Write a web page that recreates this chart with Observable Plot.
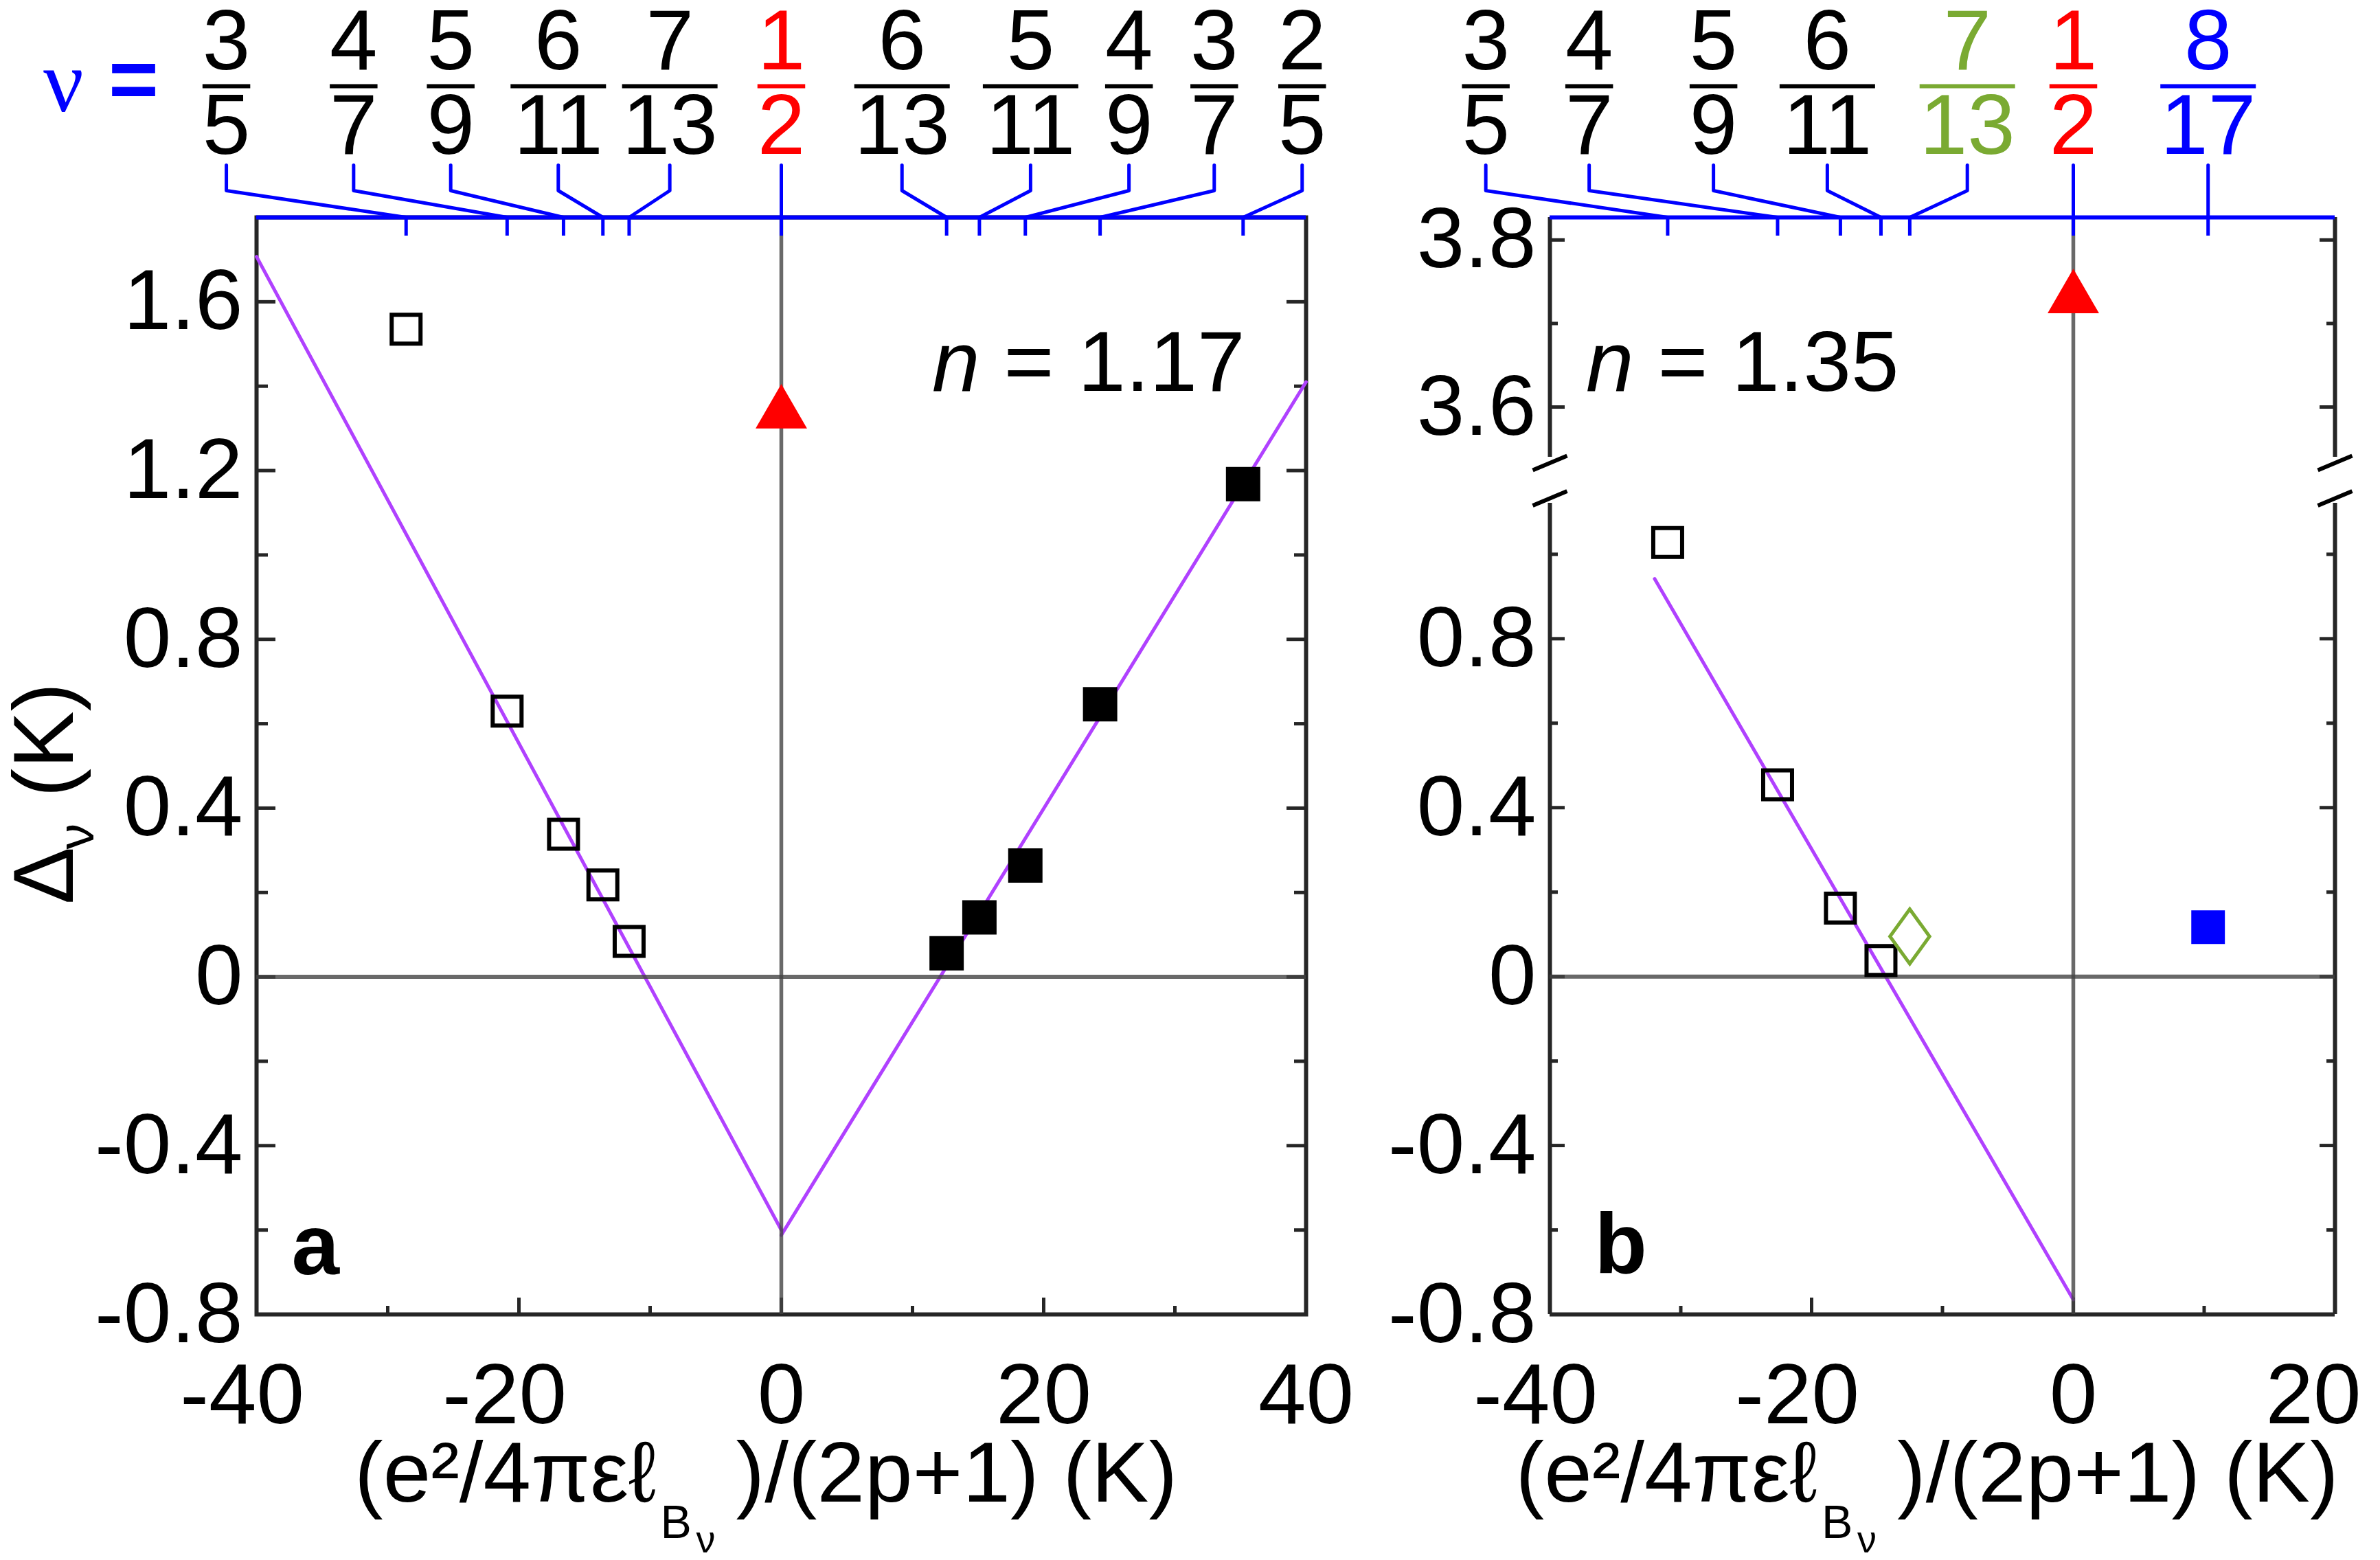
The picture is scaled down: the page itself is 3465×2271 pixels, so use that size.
<!DOCTYPE html>
<html>
<head>
<meta charset="utf-8">
<script src="https://cdn.jsdelivr.net/npm/d3@7"></script>
<script src="https://cdn.jsdelivr.net/npm/@observablehq/plot@0.6"></script>
<style>
html, body { margin: 0; padding: 0; background: #fff; }
#fig { position: relative; width: 3465px; height: 2271px; overflow: hidden; background: #fff; }
#fig svg { position: absolute; max-width: none !important; overflow: visible; }
</style>
</head>
<body>
<div id="fig"></div>
<script>
// ---------------- data ----------------
// panel a (n = 1.17)
const fracA   = ["3/5", "4/7", "5/9", "6/11", "7/13", "1/2", "6/13", "5/11", "4/9", "3/7", "2/5"];
const energyA = [-28.6, -20.9, -16.6, -13.6, -11.6, 0, 12.6, 15.1, 18.6, 24.3, 35.2];
const gapA    = [1.535, 0.630, 0.338, 0.218, 0.084, 1.335, 0.056, 0.141, 0.264, 0.646, 1.168];
const kindA   = ["open", "open", "open", "open", "open", "half", "filled", "filled", "filled", "filled", "filled"];
// panel b (n = 1.35)
const fracB   = ["3/5", "4/7", "5/9", "6/11", "7/13", "1/2", "8/17"];
const energyB = [-31.0, -22.6, -17.8, -14.7, -12.5, 0, 10.3];
const gapB    = [1.028, 0.454, 0.162, 0.038, 0.095, 3.73, 0.117];
const kindB   = ["open", "open", "open", "open", "diamond", "half", "blue"];
// linear fits
const fitAx   = [-40, 0, 0, 40];
const fitAy   = [1.707, -0.600, -0.612, 1.410];
const fitAseg = ["left", "left", "right", "right"];
const fitBx   = [-32.0, 0];
const fitBy   = [0.942, -0.765];
const nA = "1.17", nB = "1.35";
// tick values
const yTicksA = [-0.8, -0.4, 0, 0.4, 0.8, 1.2, 1.6];
const yMinorA = [-0.6, -0.2, 0.2, 0.6, 1.0, 1.4];
const xTicksA = [-40, -20, 0, 20, 40];
const xMinorA = [-30, -10, 10, 30];
const yTicksBup = [3.6, 3.8];
const yMinorBup = [3.7];
const yTicksBlo = [-0.8, -0.4, 0, 0.4, 0.8];
const yMinorBlo = [-0.6, -0.2, 0.2, 0.6, 1.0];
const xTicksB = [-40, -20, 0, 20];
const xMinorB = [-30, -10, 10];

// ---------------- layout (annotation placement, not data) ----------------
const nuLabelXA = [-42.3, -32.6, -25.2, -17.0, -8.5, 0, 9.2, 19.0, 26.5, 33.0, 39.7];
const nuLabelXB = [-44.9, -37.0, -27.5, -18.8, -8.1, 0, 10.3];

const L = {
  a:   {svgLeft: 0,    svgTop: 0,   width: 2000, height: 2271, left: 373,  right: 1901, top: 316, bottom: 1913, x: [-40, 40], y: [-0.8, 1.8]},
  bUp: {svgLeft: 2000, svgTop: 0,   width: 1465, height: 700,  left: 2256, right: 3399, top: 316, bottom: 665,  x: [-40, 20], y: [3.54, 3.827]},
  bLo: {svgLeft: 2000, svgTop: 700, width: 1465, height: 1571, left: 2256, right: 3399, top: 732, bottom: 1913, x: [-40, 20], y: [-0.8, 1.121]}
};

const FONT = "'Liberation Sans', Arial, Helvetica, sans-serif";
const STYLE = {background: "transparent", fontFamily: FONT, fontSize: "125px", color: "#000", overflow: "visible"};
const DARK = "#262626", ZERO = "#444", BLUE = "#0000ff", RED = "#ff0000", GREEN = "#7aaa32", PURPLE = "#b041ff";
const colorOf = k => k === "half" ? RED : k === "diamond" ? GREEN : k === "blue" ? BLUE : "#000";
const DIGIT_HALF = 34.75; // half advance of one 125px digit

const xu = (c, px) => px * (c.x[1] - c.x[0]) / (c.right - c.left);
const yu = (c, px) => px * (c.y[1] - c.y[0]) / (c.bottom - c.top);
const yAt = (c, gpx) => c.y[1] - (gpx - c.top) * (c.y[1] - c.y[0]) / (c.bottom - c.top);
const xPx = (c, v) => c.left + (v - c.x[0]) * (c.right - c.left) / (c.x[1] - c.x[0]);
const margins = c => ({
  marginLeft: c.left - c.svgLeft, marginRight: c.svgLeft + c.width - c.right,
  marginTop: c.top - c.svgTop, marginBottom: c.svgTop + c.height - c.bottom
});

const fig = document.getElementById("fig");
function place(svg, c, top) {
  svg.style.left = c.svgLeft + "px";
  svg.style.top = (top ?? c.svgTop) + "px";
  fig.appendChild(svg);
}

const rowsOf = (fr, en, gp, kd) => fr.map((f, i) => ({f, e: en[i], g: gp[i], kind: kd[i]}));
const rowsA = rowsOf(fracA, energyA, gapA, kindA);
const rowsB = rowsOf(fracB, energyB, gapB, kindB);

const diamondSymbol = {
  draw(ctx, size) {
    const s = Math.sqrt(size), a = 0.80 * s, b = 0.58 * s;
    ctx.moveTo(0, -a); ctx.lineTo(b, 0); ctx.lineTo(0, a); ctx.lineTo(-b, 0); ctx.closePath();
  }
};

function dots(rows) {
  return [
    Plot.dot(rows.filter(d => d.kind === "open"), {x: "e", y: "g", symbol: "square", r: 23.7, stroke: "#000", strokeWidth: 6, fill: "none"}),
    Plot.dot(rows.filter(d => d.kind === "filled"), {x: "e", y: "g", symbol: "square", r: 28.2, fill: "#000"}),
    Plot.dot(rows.filter(d => d.kind === "blue"), {x: "e", y: "g", symbol: "square", r: 27.6, fill: BLUE}),
    Plot.dot(rows.filter(d => d.kind === "half"), {x: "e", y: "g", symbol: "triangle", r: 27.8, fill: RED}),
    Plot.dot(rows.filter(d => d.kind === "diamond"), {x: "e", y: "g", symbol: diamondSymbol, r: 28, stroke: GREEN, strokeWidth: 5, fill: "none"})
  ];
}

function sideTicks(c, vals, len) {
  return [
    Plot.ruleY(vals, {x1: c.x[0], x2: c.x[0] + xu(c, len), stroke: DARK, strokeWidth: 5}),
    Plot.ruleY(vals, {x1: c.x[1] - xu(c, len), x2: c.x[1], stroke: DARK, strokeWidth: 5})
  ];
}
function bottomTicks(c, vals, len) {
  return Plot.ruleX(vals, {y1: c.y[0], y2: c.y[0] + yu(c, len), stroke: DARK, strokeWidth: 5});
}
const yAxisOpts = ticks => ({ticks, tickSize: 0, tickPadding: 20, tickFormat: d => String(d), label: null});

// x tick labels: digits centred on the tick (minus sign hangs to the left),
// optionally kept inside a right-hand limit (global px)
function xTickLabels(c, ticks, maxRight) {
  return Plot.text(ticks, {
    x: d => {
      let right = xPx(c, d) + String(Math.abs(d)).length * DIGIT_HALF;
      if (maxRight != null) right = Math.min(right, maxRight);
      return c.x[0] + xu(c, right - c.left);
    },
    text: d => String(d), textAnchor: "end", lineAnchor: "top", frameAnchor: "bottom", dy: 70, fontSize: 125
  });
}

function xLabel() {
  return [
    Plot.text(["(e²/4πεℓ"], {frameAnchor: "bottom", textAnchor: "end", lineAnchor: "bottom", dx: -182, dy: 272, fontSize: 125}),
    Plot.text(["B"], {frameAnchor: "bottom", textAnchor: "start", lineAnchor: "bottom", dx: -176, dy: 325, fontSize: 68}),
    Plot.text(["ν"], {frameAnchor: "bottom", textAnchor: "start", lineAnchor: "bottom", dx: -124, dy: 346, fontSize: 56}),
    Plot.text([")/(2p+1) (K)"], {frameAnchor: "bottom", textAnchor: "start", lineAnchor: "bottom", dx: -66, dy: 272, fontSize: 125})
  ];
}

// ---------------- panel a ----------------
const cA = L.a;
const fitARows = fitAx.map((x, i) => ({x, y: fitAy[i], s: fitAseg[i]}));
const plotA = Plot.plot({
  width: cA.width, height: cA.height, ...margins(cA),
  x: {domain: cA.x, axis: null},
  y: {domain: cA.y, ...yAxisOpts(yTicksA)},
  style: STYLE,
  marks: [
    Plot.frame({stroke: DARK, strokeWidth: 6}),
    ...sideTicks(cA, yTicksA, 28), ...sideTicks(cA, yMinorA, 17),
    bottomTicks(cA, xTicksA, 24), bottomTicks(cA, xMinorA, 12),
    xTickLabels(cA, xTicksA),
    Plot.line(fitARows, {x: "x", y: "y", z: "s", stroke: PURPLE, strokeWidth: 5}),
    Plot.ruleY([0], {stroke: ZERO, strokeOpacity: 0.8, strokeWidth: 6}),
    Plot.ruleX([0], {stroke: ZERO, strokeOpacity: 0.8, strokeWidth: 5.5}),
    ...dots(rowsA),
    Plot.text(["= " + nA], {frameAnchor: "top-right", textAnchor: "end", lineAnchor: "bottom", dx: -89, dy: 252, fontSize: 125}),
    Plot.text(["n"], {frameAnchor: "top-right", textAnchor: "end", lineAnchor: "bottom", dx: -475, dy: 252, fontSize: 125, fontStyle: "italic"}),
    Plot.text(["a"], {frameAnchor: "bottom-left", textAnchor: "start", lineAnchor: "bottom", dx: 51, dy: -59, fontSize: 125, fontWeight: "bold"}),
    ...xLabel(),
    Plot.text(["Δ"], {frameAnchor: "top-left", rotate: -90, textAnchor: "start", lineAnchor: "bottom", dx: -268, dy: 1000, fontSize: 125}),
    Plot.text(["ν"], {frameAnchor: "top-left", rotate: -90, textAnchor: "start", lineAnchor: "bottom", dx: -238, dy: 920, fontSize: 75}),
    Plot.text(["(K)"], {frameAnchor: "top-left", rotate: -90, textAnchor: "start", lineAnchor: "bottom", dx: -268, dy: 844, fontSize: 125})
  ]
});
place(plotA, cA);

// ---------------- panel b (broken y axis: two stacked plots) ----------------
const cU = L.bUp, cD = L.bLo;
const slashHalfX = 25, slashHalfY = 10.5;
function slash(c, gy, xEdge) {
  return {x1: xEdge - xu(c, slashHalfX), y1: yAt(c, gy + slashHalfY), x2: xEdge + xu(c, slashHalfX), y2: yAt(c, gy - slashHalfY)};
}
const gapEdge = 700; // boundary between the two stacked plots (global px)

const plotBup = Plot.plot({
  width: cU.width, height: cU.height, ...margins(cU),
  x: {domain: cU.x, axis: null},
  y: {domain: cU.y, ...yAxisOpts(yTicksBup)},
  style: STYLE,
  marks: [
    Plot.ruleX(cU.x, {y1: cU.y[0], y2: cU.y[1], stroke: DARK, strokeWidth: 6}),
    ...sideTicks(cU, yTicksBup, 22), ...sideTicks(cU, yMinorBup, 12),
    Plot.ruleX([0], {y1: yAt(cU, gapEdge), y2: cU.y[1], stroke: ZERO, strokeOpacity: 0.8, strokeWidth: 5.5}),
    Plot.link(cU.x.map(xe => slash(cU, 673.5, xe)), {x1: "x1", y1: "y1", x2: "x2", y2: "y2", stroke: "#000", strokeWidth: 6}),
    ...dots(rowsB.filter(d => d.g >= cU.y[0])),
    Plot.text(["n"], {frameAnchor: "top-left", textAnchor: "end", lineAnchor: "bottom", dx: 122, dy: 252, fontSize: 125, fontStyle: "italic"}),
    Plot.text(["= " + nB], {frameAnchor: "top-left", textAnchor: "start", lineAnchor: "bottom", dx: 157, dy: 252, fontSize: 125})
  ]
});
place(plotBup, cU);

const plotBlo = Plot.plot({
  width: cD.width, height: cD.height, ...margins(cD),
  x: {domain: cD.x, axis: null},
  y: {domain: cD.y, ...yAxisOpts(yTicksBlo)},
  style: STYLE,
  marks: [
    Plot.ruleX(cD.x, {y1: cD.y[0], y2: cD.y[1], stroke: DARK, strokeWidth: 6}),
    Plot.ruleY([cD.y[0]], {x1: cD.x[0], x2: cD.x[1], stroke: DARK, strokeWidth: 6}),
    ...sideTicks(cD, yTicksBlo, 22), ...sideTicks(cD, yMinorBlo, 12),
    bottomTicks(cD, xTicksB, 24), bottomTicks(cD, xMinorB, 12),
    xTickLabels(cD, xTicksB, 3437),
    Plot.link(cD.x.map(xe => slash(cD, 725, xe)), {x1: "x1", y1: "y1", x2: "x2", y2: "y2", stroke: "#000", strokeWidth: 6}),
    Plot.line(fitBx.map((x, i) => ({x, y: fitBy[i]})), {x: "x", y: "y", stroke: PURPLE, strokeWidth: 5}),
    Plot.ruleY([0], {x1: cD.x[0], x2: cD.x[1], stroke: ZERO, strokeOpacity: 0.8, strokeWidth: 6}),
    Plot.ruleX([0], {y1: cD.y[0], y2: yAt(cD, gapEdge), stroke: ZERO, strokeOpacity: 0.8, strokeWidth: 5.5}),
    ...dots(rowsB.filter(d => d.g <= cD.y[1])),
    Plot.text(["b"], {frameAnchor: "bottom-left", textAnchor: "start", lineAnchor: "bottom", dx: 65, dy: -61, fontSize: 125, fontWeight: "bold"}),
    ...xLabel()
  ]
});
place(plotBlo, cD);

// ---------------- ν filling-factor strips (top axis with leaders) ----------------
const STRIP_H = 360;
function strip(c, rows, labelX, withNu) {
  const r = rows.map((d, i) => {
    const [num, den] = d.f.split("/");
    return {f: d.f, num, den, e: d.e, lx: labelX[i], color: colorOf(d.kind)};
  });
  const leaders = r.flatMap(d => [{f: d.f, x: d.lx, y: 240}, {f: d.f, x: d.lx, y: 277}, {f: d.f, x: d.e, y: 316}]);
  const marks = [
    Plot.ruleY([316], {x1: c.x[0], x2: c.x[1], stroke: BLUE, strokeWidth: 6}),
    Plot.ruleX(r, {x: "e", y1: 316, y2: 343, stroke: BLUE, strokeWidth: 5}),
    Plot.line(leaders, {x: "x", y: "y", z: "f", stroke: BLUE, strokeWidth: 5}),
    Plot.text(r, {x: "lx", y: 100, text: "num", fill: d => d.color, lineAnchor: "bottom", fontSize: 125}),
    Plot.text(r, {x: "lx", y: 223, text: "den", fill: d => d.color, lineAnchor: "bottom", fontSize: 125}),
    Plot.link(r, {
      x1: d => d.lx - xu(c, d.den.length * DIGIT_HALF), x2: d => d.lx + xu(c, d.den.length * DIGIT_HALF),
      y1: 125, y2: 125, stroke: d => d.color, strokeWidth: 6
    })
  ];
  if (withNu) {
    marks.push(
      Plot.text(["ν"], {frameAnchor: "top-left", textAnchor: "middle", lineAnchor: "bottom", dx: 92 - c.left, dy: 161, fontSize: 130, fill: BLUE, fontFamily: "'Liberation Serif', 'Times New Roman', serif"}),
      Plot.text(["="], {frameAnchor: "top-left", textAnchor: "middle", lineAnchor: "bottom", dx: 194 - c.left, dy: 157, fontSize: 125, fill: BLUE, fontWeight: "bold"})
    );
  }
  return Plot.plot({
    width: c.width, height: STRIP_H,
    marginLeft: c.left - c.svgLeft, marginRight: c.svgLeft + c.width - c.right, marginTop: 0, marginBottom: 0,
    x: {domain: c.x, axis: null},
    y: {domain: [0, STRIP_H], range: [0, STRIP_H], axis: null},
    color: {type: "identity"},
    style: STYLE,
    marks
  });
}
place(strip(cA, rowsA, nuLabelXA, true), cA, 0);
place(strip(cU, rowsB, nuLabelXB, false), cU, 0);
</script>
</body>
</html>
